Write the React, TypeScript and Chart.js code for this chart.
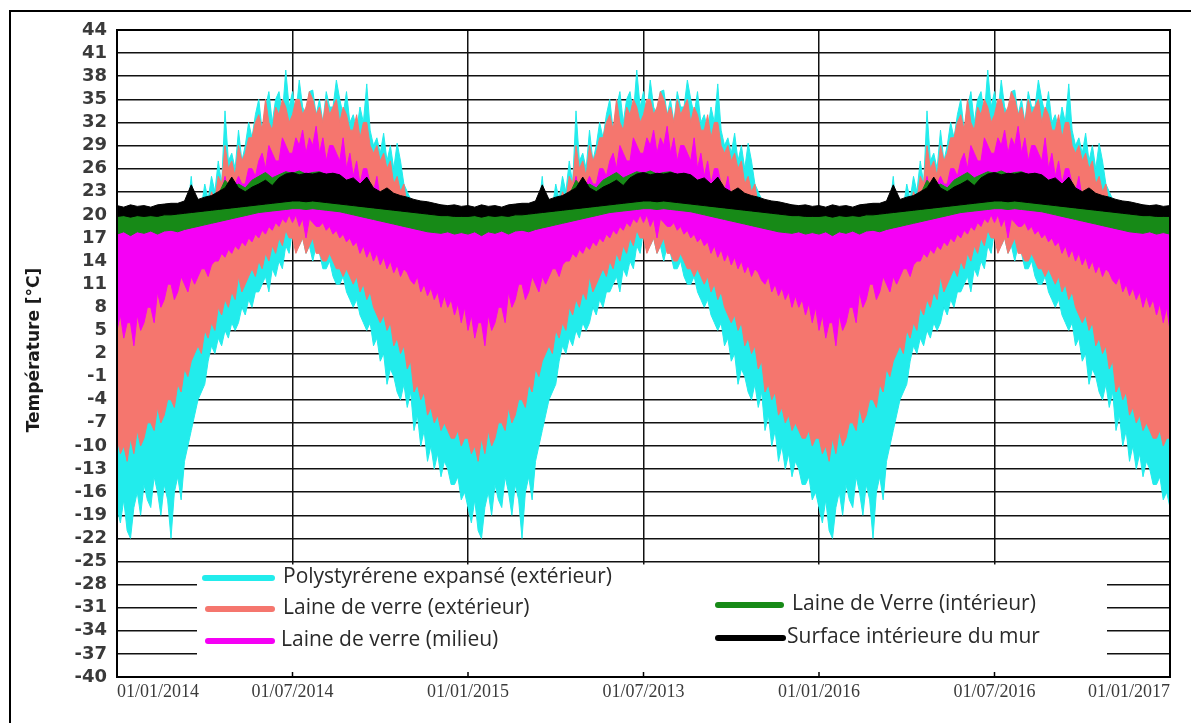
import React, { useEffect, useRef } from "react";
import { Chart, registerables } from "chart.js";

Chart.register(...registerables);

// ---- data: one annual cycle (the same cycle is shown for each year) ----
const years = ["2014", "2015", "2016"];
const WEEKS_PER_YEAR = 52;
const xTickLabels = ["01/01/2014", "01/07/2014", "01/01/2015", "01/07/2013", "01/01/2016", "01/07/2016", "01/01/2017"];
const seriesLabels = [
  "Polystyrérene expansé (extérieur)",
  "Laine de verre (extérieur)",
  "Laine de verre (milieu)",
  "Laine de Verre (intérieur)",
  "Surface intérieure du mur",
];

// half-week readings, grouped per week [first half, second half]
const cyanHigh = [
  [10, 12], [11, 13], [12, 11], [13, 12], [14, 12], [13, 15], [14, 13], [15, 14], [16, 15], [18, 16],
  [19, 21], [25, 20], [22, 21], [24, 22], [25, 23], [27, 24], [33.5, 27], [28, 26], [31, 27], [29, 32],
  [30, 33], [35, 31], [34, 36], [32, 35], [36, 33], [38.8, 34], [36, 33], [37.5, 34], [33, 36], [36.2, 33],
  [35, 32], [36, 34], [34, 37.5], [35, 33], [36, 32], [33, 31], [34, 32], [37, 31], [29, 30], [28, 30.6],
  [27, 29], [26, 29.3], [27, 24], [23, 22], [21, 20], [19, 18], [18, 17], [16, 15], [14, 13], [13, 12],
  [12, 11], [11, 10],
].flat();
const cyanLow = [
  [-18, -20], [-17, -21], [-22, -18], [-16, -19], [-15, -17], [-18, -14], [-16, -19], [-15, -17], [-22, -16], [-14, -17],
  [-12, -10], [-8, -6], [-4, -3], [-2, 1], [3, 2], [4, 3], [5, 4], [6, 5], [6, 8], [7, 9],
  [8, 10], [10, 11], [12, 10], [13, 12], [14, 13], [16, 15], [18, 17], [16, 17], [15, 16], [14, 16],
  [15, 13], [13, 14], [12, 11], [11, 12], [10, 9], [8, 9], [7, 6], [5, 6], [3, 4], [1, 2],
  [-2, 0], [-1, -3], [-4, -2], [-5, -3], [-8, -6], [-10, -8], [-12, -10], [-13, -11], [-14, -12], [-13, -15],
  [-15, -14], [-17, -16],
].flat();
const salmonHigh = [
  [16, 16], [16, 16], [16, 16], [16, 16], [16, 16], [16, 16], [16, 16], [16, 16], [16, 17], [17, 17],
  [18, 19], [21, 19], [20, 21], [22, 21], [23, 22], [25, 24], [29, 26], [27, 25], [29, 27], [28, 30],
  [30, 32], [33, 31], [35, 32], [31, 34], [33, 35], [34, 32], [33, 35], [35, 33], [34, 36], [35, 33],
  [34, 32], [35, 33], [34, 35], [32, 34], [33, 31], [31, 33], [30, 32], [32, 29], [28, 29], [27, 28],
  [26, 27], [24, 25], [23, 24], [21, 20], [19, 18], [18, 17], [17, 17], [17, 17], [17, 17], [17, 16],
  [16, 16], [16, 16],
].flat();
const salmonLow = [
  [-9, -11], [-10, -12], [-9, -11], [-8, -10], [-9, -7], [-7, -8], [-5, -7], [-6, -4], [-4, -5], [-2, -3],
  [0, -1], [1, 2], [3, 2], [5, 4], [6, 5], [8, 7], [9, 8], [10, 9], [12, 10], [11, 12],
  [13, 12], [14, 13], [15, 14], [16, 15], [17, 16], [18, 17], [17, 15], [16, 17], [15, 16], [17, 15],
  [15, 14], [14, 15], [14, 13], [13, 12], [13, 12], [11, 12], [10, 11], [9, 10], [8, 7], [6, 7],
  [5, 6], [3, 4], [2, 3], [0, 1], [-3, -2], [-4, -3], [-6, -5], [-7, -6], [-8, -7], [-8, -9],
  [-9, -8], [-10, -9],
].flat();
const magentaHigh = [
  [18, 18.5], [18.5, 18], [18, 18.3], [18, 18.5], [18.5, 18], [18, 18.5], [18.5, 18], [18.5, 18.7], [18.5, 19], [19, 18.8],
  [19, 19.5], [19.5, 20], [20, 20.5], [20.5, 21], [21, 22], [22, 23], [25, 23], [23, 24], [25, 24], [24, 26],
  [26, 25], [27, 28], [26, 29], [28, 27], [27, 30], [29, 28], [28, 30], [29, 31], [28, 30], [29, 31.5],
  [28, 30], [27, 29], [29, 28], [27, 30], [26, 28], [25, 27], [24, 26], [26, 24], [23, 25], [22, 23],
  [21, 22], [21, 20.5], [20, 20.5], [19.5, 20], [19, 19.5], [19, 18.8], [18.5, 18.8], [18.5, 18.3], [18.5, 18], [18, 18.3],
  [18, 18.2], [18, 18.3],
].flat();
const magentaLow = [
  [5, 7], [4, 6], [6, 3], [7, 5], [6, 8], [8, 6], [10, 8], [9, 11], [11, 9], [10, 12],
  [11, 10], [12, 11], [12, 13], [13, 12], [13.5, 14], [14, 15], [14.5, 15.5], [15, 16], [15.5, 16.5], [16, 17],
  [16.5, 17.5], [17, 18], [17.5, 18.5], [18, 19], [18.5, 19.5], [19, 20], [19, 20], [18.5, 19.5], [17, 19.5], [19, 18.5],
  [18.5, 19], [18, 18.5], [17.5, 18], [17, 17.5], [16.5, 17], [16, 16.5], [15, 16], [14.5, 15.5], [14, 15], [13.5, 14.5],
  [13, 14], [12.5, 13.5], [12, 13], [12.5, 11.5], [11, 12], [10, 11], [9.5, 10.5], [9, 10], [8, 9.5], [8, 9],
  [7, 8.5], [6, 8],
].flat();
// weekly readings
const greenHigh = [20.8, 20.6, 20.9, 20.7, 20.8, 20.7, 20.9, 21, 21, 21.2, 21.4, 23.5, 21.8, 22, 22.2, 22.6, 24.5, 23.5, 24, 23.5, 24.5, 25, 25.5, 24.8, 25.2, 25.6, 25.4, 25.7, 25.3, 25.5, 25.6, 25.2, 25.4, 25, 24.5, 24.6, 23.8, 24.5, 23, 22.6, 22.6, 22.2, 22, 21.8, 21.6, 21.4, 21.2, 21, 20.9, 20.8, 20.9, 20.7];
const greenLow = [17.5, 17.8, 17.3, 17.8, 17.6, 17.9, 17.5, 17.9, 18, 17.8, 18.1, 18.3, 18.5, 18.7, 18.9, 19.1, 19.3, 19.5, 19.7, 19.9, 20.1, 20.3, 20.4, 20.5, 20.6, 20.7, 20.8, 20.8, 20.7, 20.8, 20.7, 20.6, 20.5, 20.4, 20.2, 20, 19.8, 19.6, 19.4, 19.2, 19, 18.8, 18.6, 18.4, 18.2, 18, 17.8, 17.7, 17.6, 17.8, 17.5, 17.7];
const blackHigh = [21.2, 21, 21.3, 21.1, 21.2, 21, 21.3, 21.4, 21.5, 21.5, 21.8, 23.9, 22, 22.3, 22.5, 23, 23.5, 24.9, 23.5, 23, 23.6, 24, 24.5, 23.8, 24.8, 25.3, 25.5, 25.2, 25.4, 25.3, 25.5, 25.3, 25.4, 25.2, 24.5, 24.8, 24, 24.9, 23.5, 23, 23.5, 22.8, 22.5, 22.3, 22, 21.8, 21.7, 21.5, 21.3, 21.2, 21.3, 21.1];
const blackLow = [19.8, 19.9, 19.7, 19.9, 19.8, 19.9, 19.8, 20, 20, 20.1, 20.2, 20.3, 20.4, 20.5, 20.6, 20.7, 20.8, 20.9, 21, 21.1, 21.2, 21.3, 21.4, 21.5, 21.6, 21.7, 21.8, 21.8, 21.7, 21.8, 21.7, 21.6, 21.5, 21.4, 21.3, 21.2, 21.1, 21, 20.9, 20.8, 20.7, 20.6, 20.5, 20.4, 20.3, 20.2, 20.1, 20, 19.9, 19.9, 19.8, 19.8];

const seriesColors = ["#22ECEC", "#F5766E", "#F500F5", "#178A17", "#000000"];

function toPoints(values: number[]) {
  const pts: { x: number; y: number }[] = [];
  const step = WEEKS_PER_YEAR / values.length;
  years.forEach((_, yi) => {
    values.forEach((v, i) => pts.push({ x: yi * WEEKS_PER_YEAR + i * step, y: v }));
  });
  pts.push({ x: years.length * WEEKS_PER_YEAR, y: values[0] });
  return pts;
}

function band(hi: number[], lo: number[], color: string, order: number) {
  const common = { borderColor: color, backgroundColor: color, borderWidth: 1, pointRadius: 0, order };
  return [
    { ...common, data: toPoints(hi), fill: "+1" },
    { ...common, data: toPoints(lo), fill: false },
  ];
}

const decorPlugin = {
  id: "decor",
  beforeDraw(chart: any) {
    const { ctx, width, height } = chart;
    ctx.save();
    ctx.fillStyle = "#ffffff";
    ctx.fillRect(0, 0, width, height);
    ctx.restore();
  },
  afterDraw(chart: any) {
    const { ctx, chartArea: a, scales } = chart;
    const ys = scales.y;
    const xs = scales.x;
    ctx.save();
    // legend box (white area over the lower plot)
    const boxTop = ys.getPixelForValue(-25) + 3;
    ctx.fillStyle = "#ffffff";
    ctx.fillRect(197, boxTop, 1107 - 197, a.bottom - 1 - boxTop);

    // small ticks on bottom axis
    ctx.strokeStyle = "#000";
    ctx.lineWidth = 1.5;
    for (let i = 0; i < xTickLabels.length; i++) {
      const px = xs.getPixelForValue((i * WEEKS_PER_YEAR) / 2);
      ctx.beginPath();
      ctx.moveTo(px, a.bottom);
      ctx.lineTo(px, a.bottom - 5);
      ctx.stroke();
    }

    // plot border
    ctx.lineWidth = 2;
    ctx.strokeRect(a.left, a.top, a.right - a.left, a.bottom - a.top);

    // legend entries
    const entries = [
      { i: 0, x1: 205, x2: 272, y: 578, tx: 283 },
      { i: 1, x1: 208, x2: 272, y: 609, tx: 283 },
      { i: 2, x1: 208, x2: 272, y: 641, tx: 281 },
      { i: 3, x1: 718, x2: 781, y: 605, tx: 792 },
      { i: 4, x1: 718, x2: 783, y: 638, tx: 787 },
    ];
    ctx.font = '21px "Open Sans", sans-serif';
    ctx.textBaseline = "middle";
    ctx.textAlign = "left";
    entries.forEach((e) => {
      ctx.strokeStyle = seriesColors[e.i];
      ctx.lineWidth = 6;
      ctx.lineCap = "round";
      ctx.beginPath();
      ctx.moveTo(e.x1, e.y);
      ctx.lineTo(e.x2, e.y);
      ctx.stroke();
      ctx.fillStyle = "#2a2a2a";
      ctx.fillText(seriesLabels[e.i], e.tx, e.y - 1);
    });

    // y axis title
    ctx.save();
    ctx.translate(35, 350);
    ctx.rotate(-Math.PI / 2);
    ctx.font = 'bold 17px "DejaVu Sans", sans-serif';
    ctx.fillStyle = "#1a1a1a";
    ctx.textAlign = "center";
    ctx.textBaseline = "middle";
    ctx.fillText("Température [°C]", 0, 0);
    ctx.restore();

    // outer frame
    ctx.strokeStyle = "#000";
    ctx.lineWidth = 2;
    ctx.lineCap = "butt";
    ctx.beginPath();
    ctx.moveTo(10, chart.height);
    ctx.lineTo(10, 11);
    ctx.lineTo(chart.width, 11);
    ctx.stroke();
    ctx.restore();
  },
};

export default function App() {
  const ref = useRef<HTMLCanvasElement | null>(null);
  useEffect(() => {
    if (!ref.current) return;
    const datasets = [
      ...band(blackHigh, blackLow, seriesColors[4], 1),
      ...band(greenHigh, greenLow, seriesColors[3], 2),
      ...band(magentaHigh, magentaLow, seriesColors[2], 3),
      ...band(salmonHigh, salmonLow, seriesColors[1], 4),
      ...band(cyanHigh, cyanLow, seriesColors[0], 5),
    ];
    const chart = new Chart(ref.current, {
      type: "line",
      data: { datasets: datasets as any },
      plugins: [decorPlugin],
      options: {
        animation: false,
        responsive: false,
        devicePixelRatio: 1,
        layout: { padding: { top: 30, right: 21, left: 0, bottom: 0 } },
        plugins: {
          legend: { display: false },
          tooltip: { enabled: false },
          filler: { drawTime: "beforeDatasetDraw" } as any,
        },
        elements: { line: { tension: 0 } },
        scales: {
          x: {
            type: "linear",
            min: 0,
            max: years.length * WEEKS_PER_YEAR,
            z: 1,
            border: { display: true, color: "#000", width: 2 },
            grid: { color: "#111", lineWidth: 1.5, drawTicks: false },
            ticks: {
              stepSize: WEEKS_PER_YEAR / 2,
              autoSkip: false,
              maxRotation: 0,
              align: "inner",
              padding: 4,
              color: "#3a3a3a",
              font: { family: '"Liberation Serif", serif', size: 18 },
              callback: (v: any) => xTickLabels[Math.round(Number(v) / (WEEKS_PER_YEAR / 2))] ?? "",
            },
            afterFit: (s: any) => {
              s.height = 46;
            },
          },
          y: {
            min: -40,
            max: 44,
            z: 1,
            border: { display: true, color: "#000", width: 2 },
            grid: { color: "#111", lineWidth: 1.5, drawTicks: false },
            ticks: {
              stepSize: 3,
              autoSkip: false,
              padding: 10,
              color: "#3a3a3a",
              font: { family: '"DejaVu Sans", sans-serif', size: 18, weight: "bold" },
            },
            afterFit: (s: any) => {
              s.width = 117;
            },
          },
        },
      } as any,
    });
    return () => chart.destroy();
  }, []);
  return (
    <div style={{ position: "fixed", left: 0, top: 0, width: 1191, height: 723, background: "#fff" }}>
      <canvas ref={ref} width={1191} height={723} style={{ display: "block" }} />
    </div>
  );
}
